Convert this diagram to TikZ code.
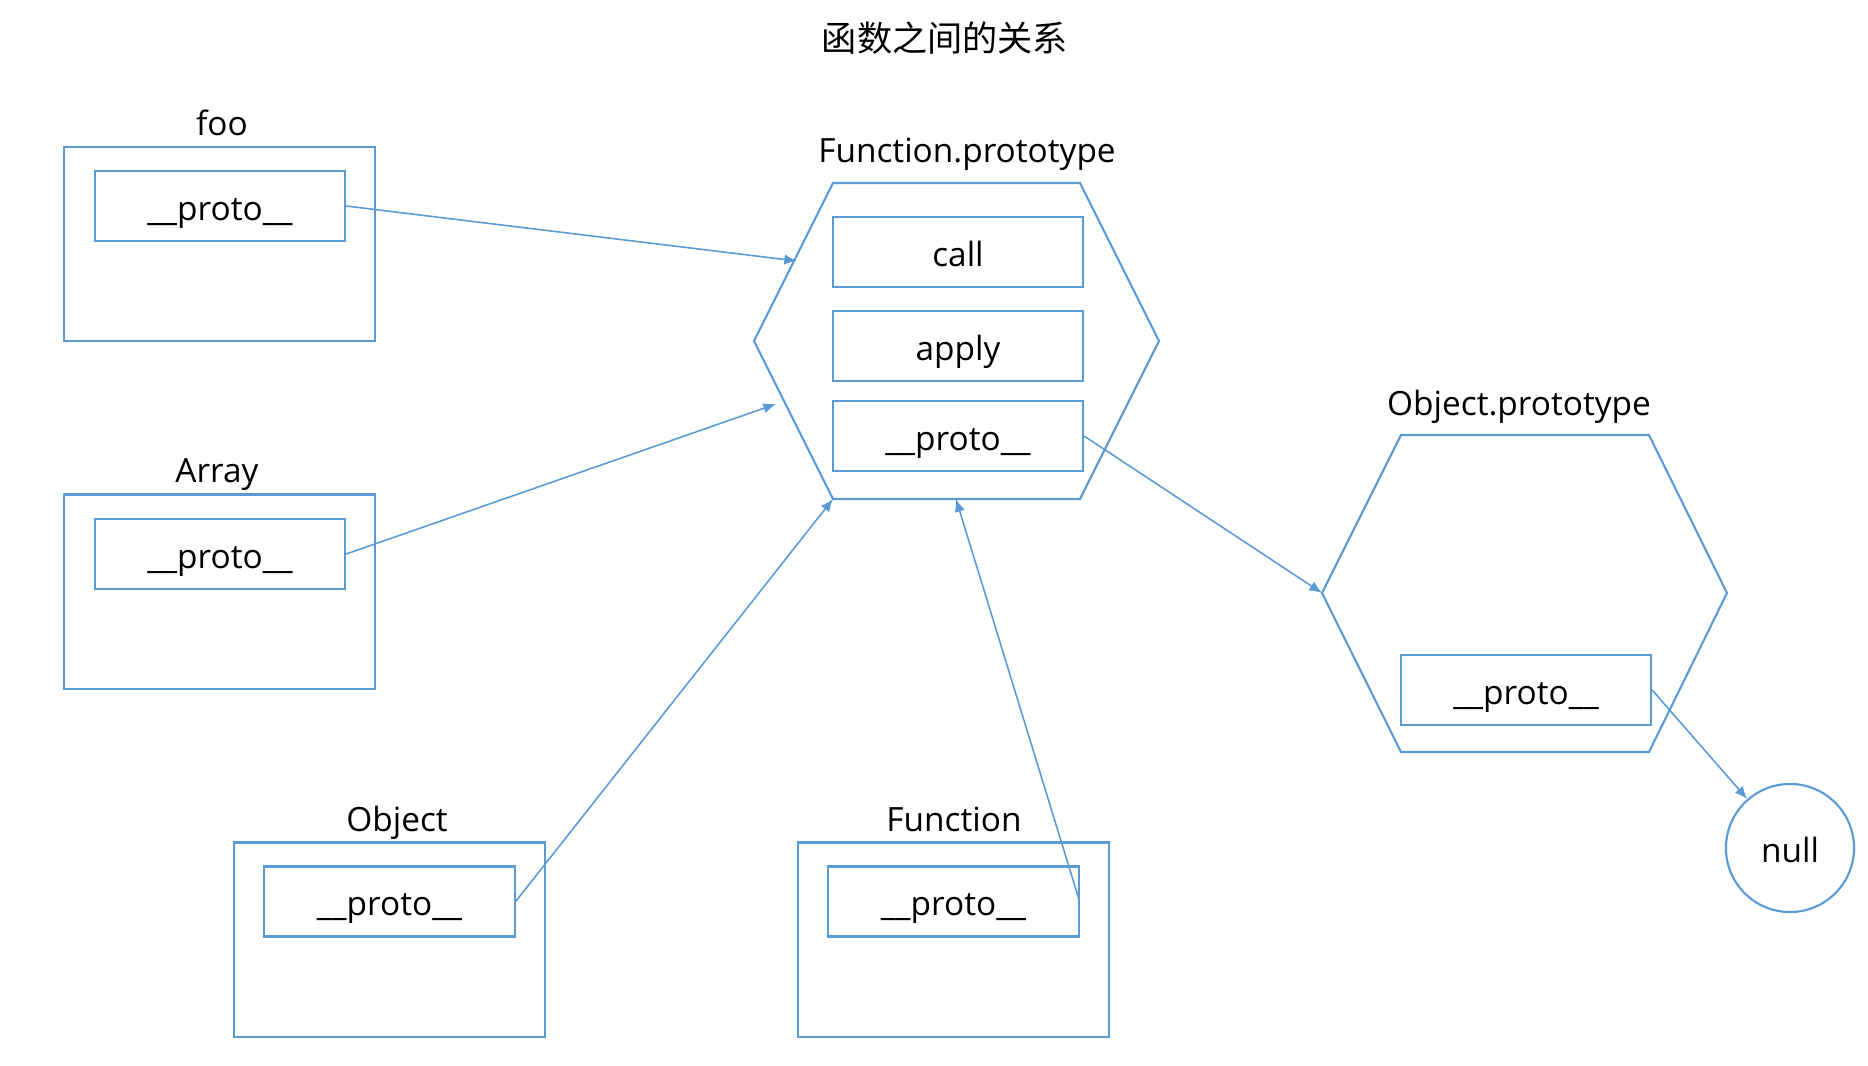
\documentclass[tikz,border=0pt]{standalone}
\usepackage{fontspec}
\setmainfont{Open Sans}
\newfontfamily\cjk{Noto Sans CJK SC}
\usetikzlibrary{positioning, arrows.meta}
\definecolor{lineblue}{HTML}{5B9BD5}

\begin{document}
\begin{tikzpicture}[x=0.01cm, y=-0.01cm]
    % Styles
    \tikzstyle{outer} = [draw=lineblue, line width=0.6pt, minimum width=3.11cm, minimum height=1.94cm, inner sep=0pt]
    \tikzstyle{slot} = [draw=lineblue, line width=0.6pt, minimum width=2.5cm, minimum height=0.7cm, inner sep=0pt, text height=0.82em, text depth=0pt, font=\fontsize{9.5}{12}\selectfont]
    \tikzstyle{label} = [font=\fontsize{9.5}{12}\selectfont, inner sep=0pt, anchor=base]
    \tikzstyle{hex} = [draw=lineblue, line width=0.6pt]
    \tikzstyle{link} = [draw=lineblue, line width=0.45pt, -{Latex[length=3.6pt, width=3pt]}]

    \useasboundingbox (0,0) rectangle (1868,1066);

    % Title
    \node[font=\cjk\fontsize{10}{12}\selectfont] (title) at (945,38) {函数之间的关系};

    % Left objects
    \node[outer] (foo) at (219.5,244) {};
    \node[slot] (fooP) at (220,206) {\_\_proto\_\_};
    \node[label] (fooT) at (222,135) {foo};

    \node[outer] (arr) at (219.5,591.5) {};
    \node[slot] (arrP) at (220,554) {\_\_proto\_\_};
    \node[label] (arrT) at (217,482) {Array};

    % Bottom objects
    \node[outer] (obj) at (389.5,939.5) {};
    \node[slot] (objP) at (389.5,901.5) {\_\_proto\_\_};
    \node[label] (objT) at (397,831) {Object};

    \node[outer] (fun) at (953.5,939.5) {};
    \node[slot] (funP) at (953.5,901.5) {\_\_proto\_\_};
    \node[label] (funT) at (954,831) {Function};

    % Function.prototype
    \coordinate (fpTL) at (833,183);
    \coordinate (fpTR) at (1080,183);
    \coordinate (fpR) at (1159,341);
    \coordinate (fpBR) at (1080,499);
    \coordinate (fpBL) at (833,499);
    \coordinate (fpL) at (754,341);
    \draw[hex] (fpTL) -- (fpTR) -- (fpR) -- (fpBR) -- (fpBL) -- (fpL) -- cycle;
    \node[label] (fpT) at (967,162) {Function.prototype};
    \node[slot] (fpCall) at (958,252) {call};
    \node[slot] (fpApply) at (958,346) {apply};
    \node[slot] (fpProto) at (958,436) {\_\_proto\_\_};
    \coordinate (fpInA) at (797,261);
    \coordinate (fpInB) at (776,404);
    \coordinate (fpInC) at (956,499);

    % Object.prototype
    \coordinate (opTL) at (1401,435);
    \coordinate (opTR) at (1649,435);
    \coordinate (opR) at (1727,593);
    \coordinate (opBR) at (1649,752);
    \coordinate (opBL) at (1401,752);
    \coordinate (opL) at (1322,593);
    \draw[hex] (opTL) -- (opTR) -- (opR) -- (opBR) -- (opBL) -- (opL) -- cycle;
    \node[label] (opT) at (1519,415) {Object.prototype};
    \node[slot] (opProto) at (1526,690) {\_\_proto\_\_};

    % null
    \node[draw=lineblue, line width=0.6pt, circle, minimum size=1.28cm, inner sep=0pt, text height=0.82em, text depth=0pt, font=\fontsize{9.5}{12}\selectfont] (null) at (1790,848) {null};

    % Links
    \draw[link] (fooP.east) -- (fpInA);
    \draw[link] (arrP.east) -- (fpInB);
    \draw[link] (objP.east) -- (fpBL);
    \draw[link] (funP.east) -- (fpInC);
    \draw[link] (fpProto.east) -- (opL);
    \draw[link] (opProto.east) -- (null);

\end{tikzpicture}
\end{document}
